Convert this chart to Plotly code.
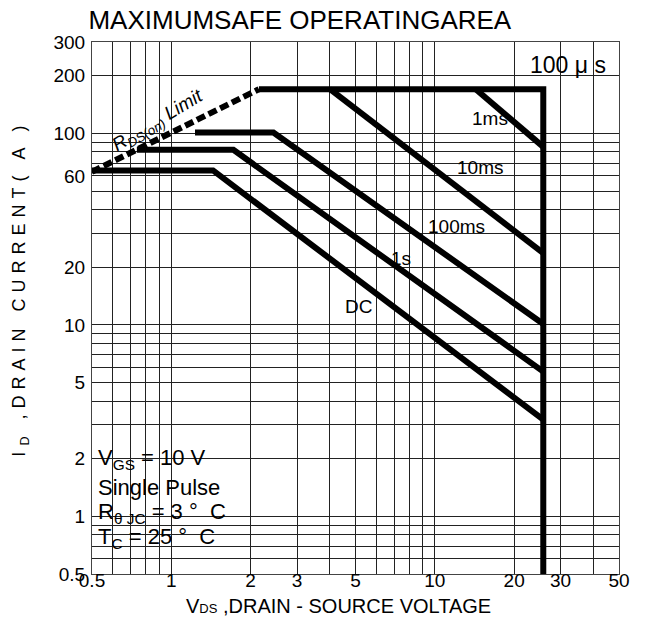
import numpy as np
import plotly.graph_objects as go

# ---------------- data ----------------
x_ticks = [0.5, 0.6, 0.7, 0.8, 0.9, 1, 2, 3, 4, 5, 6, 7, 8, 9, 10, 20, 30, 40, 50]
x_tick_labels = {0.5: "0.5", 1: "1", 2: "2", 3: "3", 5: "5", 10: "10", 20: "20", 30: "30", 50: "50"}
y_ticks = [0.5, 0.6, 0.7, 0.8, 0.9, 1, 2, 3, 4, 5, 6, 7, 8, 9, 10,
           20, 30, 40, 50, 60, 70, 80, 90, 100, 200, 300]
y_tick_labels = {0.5: "0.5", 1: "1", 2: "2", 5: "5", 10: "10", 20: "20",
                 60: "60", 100: "100", 200: "200", 300: "300"}

rds_v = [0.5, 2.15]
rds_i = [63, 170]
us100_v = [2.15, 25.8, 25.8]
us100_i = [170, 170, 0.5]
ms1_v = [14.3, 25.8]
ms1_i = [170, 85]
ms10_v = [4.0, 25.8]
ms10_i = [170, 23.7]
ms100_v = [1.23, 2.44, 25.8]
ms100_i = [101, 101, 10.1]
s1_v = [0.74, 1.72, 25.8]
s1_i = [82, 82, 5.7]
dc_v = [0.5, 1.44, 25.8]
dc_i = [64, 64, 3.2]

curve_labels = ["1ms", "10ms", "100ms", "1s", "DC"]
curve_label_v = [16.2, 14.85, 12.05, 7.45, 5.12]
curve_label_i = [120, 66, 32.5, 22.3, 12.4]

cond_lines = ["V<sub>GS</sub> = 10 V", "Single Pulse",
              "R<sub>\u03b8 JC</sub> = 3 \u00b0  C", "T<sub>C</sub> = 25 \u00b0  C"]
cond_i = [2.0, 1.42, 1.045, 0.768]

FONT = "Liberation Sans, Arial, sans-serif"

fig = go.Figure()
thick = dict(color="black", width=6)
fig.add_trace(go.Scatter(x=rds_v, y=rds_i, mode="lines",
                         line=dict(color="black", width=6, dash="9px,4px"), hoverinfo="skip"))
for v, i in [(us100_v, us100_i), (ms1_v, ms1_i), (ms10_v, ms10_i),
             (ms100_v, ms100_i), (s1_v, s1_i), (dc_v, dc_i)]:
    fig.add_trace(go.Scatter(x=v, y=i, mode="lines", line=thick, hoverinfo="skip"))

ann = []
for t, v, i in zip(curve_labels, curve_label_v, curve_label_i):
    ann.append(dict(x=np.log10(v), y=np.log10(i), xref="x", yref="y", text=t,
                    showarrow=False, font=dict(size=19, color="black", family=FONT)))
ann.append(dict(x=np.log10(32.0), y=np.log10(228), xref="x", yref="y",
                text="100 \u03bc s", showarrow=False,
                font=dict(size=23, color="black", family=FONT)))
ann.append(dict(x=np.log10(0.893), y=np.log10(116), xref="x", yref="y",
                text="<i>R<sub>DS(on)</sub> Limit</i>", textangle=-31, showarrow=False,
                font=dict(size=19, color="black", family=FONT)))
for t, i in zip(cond_lines, cond_i):
    ann.append(dict(x=np.log10(0.518), y=np.log10(i), xref="x", yref="y", text=t,
                    xanchor="left", yanchor="middle", showarrow=False,
                    font=dict(size=22, color="black", family=FONT)))
# axis titles
ann.append(dict(x=0.468, y=-0.084, xref="paper", yref="paper",
                xanchor="center", yanchor="bottom",
                text="V<span style='font-size:13px'>DS</span> ,DRAIN - SOURCE VOLTAGE",
                showarrow=False,
                font=dict(size=20, color="black", family=FONT)))
ann.append(dict(x=-0.135, y=0.538, xref="paper", yref="paper", textangle=-90,
                xanchor="center", yanchor="middle",
                text="<span style='letter-spacing:6px'>I<sub>D</sub> ,DRAIN CURRENT( A )</span>",
                showarrow=False,
                font=dict(size=18, color="black", family=FONT)))

fig.update_layout(
    width=633, height=611,
    margin=dict(l=84, r=22, t=34, b=45),
    paper_bgcolor="white", plot_bgcolor="white",
    showlegend=False,
    title=dict(text="MAXIMUMSAFE OPERATINGAREA", x=0.461, xref="container",
               y=0.980, yref="container", xanchor="center", yanchor="middle",
               font=dict(size=26, color="black", family=FONT)),
    annotations=ann,
)
fig.update_xaxes(type="log", range=[np.log10(0.5), np.log10(50)],
                 tickvals=x_ticks, ticktext=[x_tick_labels.get(v, "") for v in x_ticks],
                 showgrid=True, gridcolor="#222", gridwidth=1,
                 showline=True, linecolor="#444", linewidth=1, mirror=True,
                 ticks="", zeroline=False, ticklabelstandoff=-11,
                 tickfont=dict(size=19, color="black", family=FONT))
fig.update_yaxes(type="log", range=[np.log10(0.5), np.log10(300)],
                 tickvals=y_ticks, ticktext=[y_tick_labels.get(v, "") for v in y_ticks],
                 showgrid=True, gridcolor="#222", gridwidth=1,
                 showline=True, linecolor="#444", linewidth=1, mirror=True,
                 ticks="", zeroline=False, ticklabelstandoff=2,
                 tickfont=dict(size=19, color="black", family=FONT))

fig.write_html("out.html")
